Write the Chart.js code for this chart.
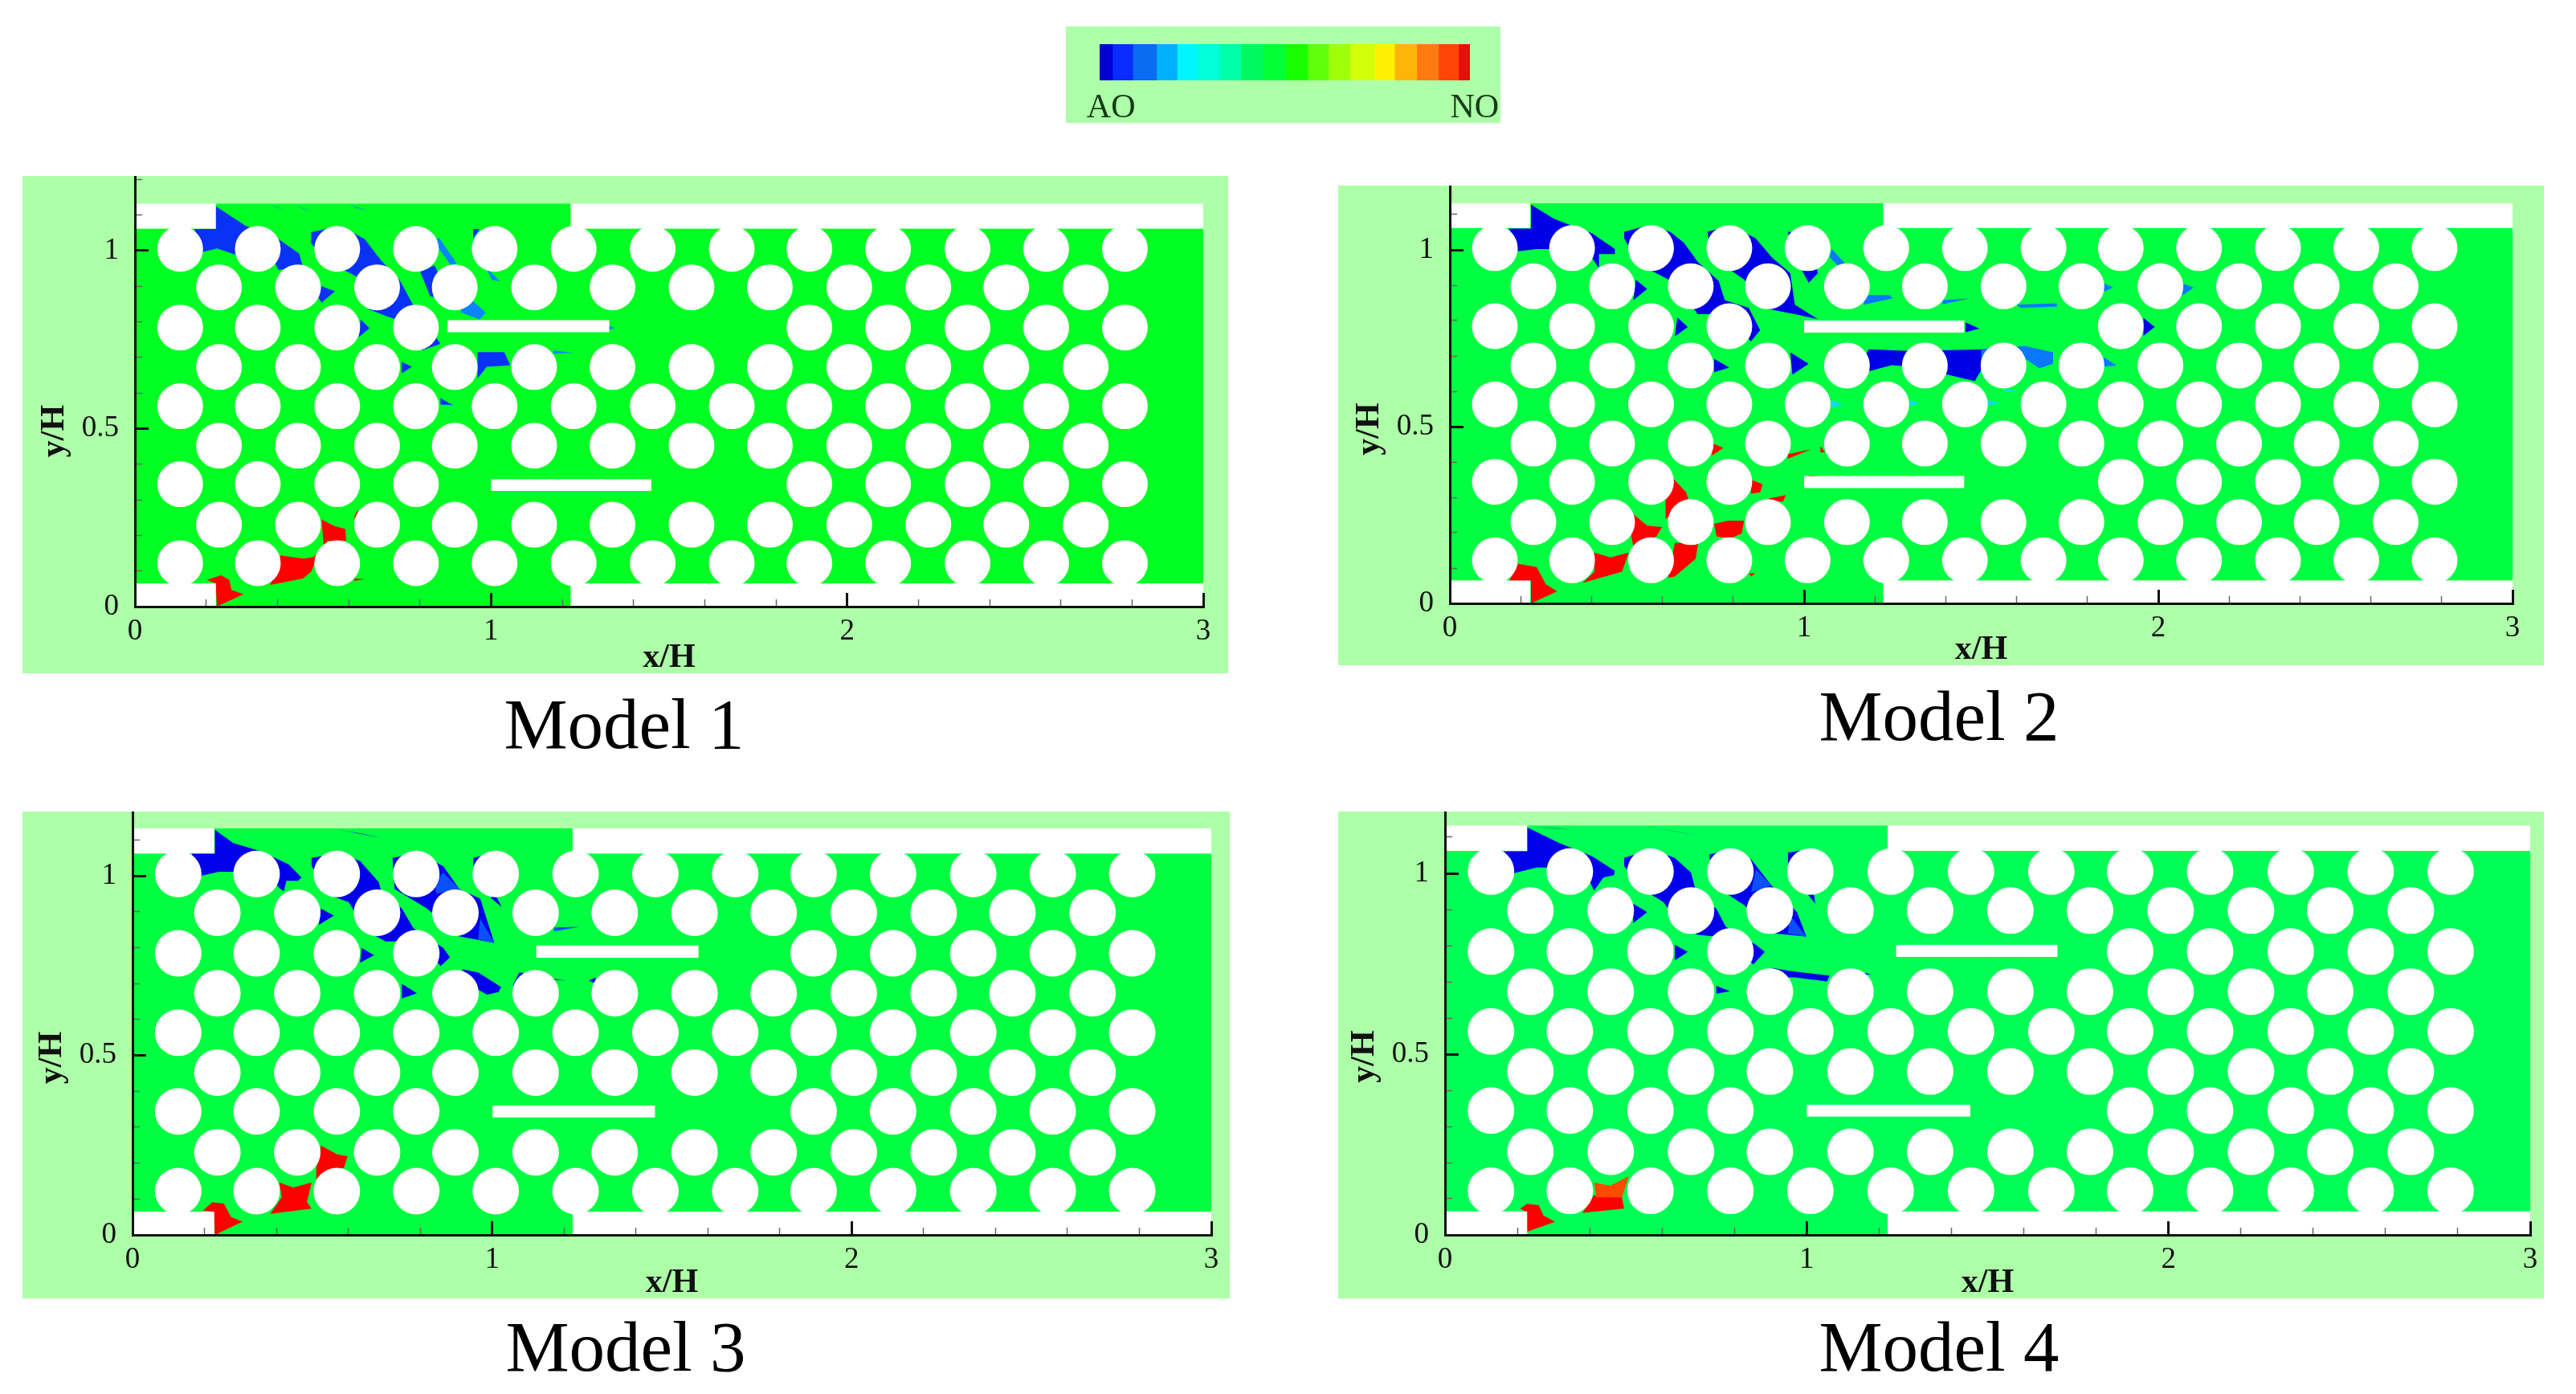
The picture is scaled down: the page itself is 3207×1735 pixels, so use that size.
<!DOCTYPE html>
<html>
<head>
<meta charset="utf-8">
<title>Model 1-4 contours</title>
<script src="https://cdn.jsdelivr.net/npm/chart.js@4/dist/chart.umd.min.js"></script>
<style>
html, body { margin: 0; padding: 0; background: #fff; }
#page { position: relative; width: 3207px; height: 1735px; overflow: hidden; }
.panel { position: absolute; background: #adffa8; }
.panel canvas { position: absolute; left: 0; top: 0; }
.caption { position: absolute; font: 89px/1 "Liberation Serif", serif; color: #000; transform: translateX(-50%); white-space: nowrap; }
</style>
</head>
<body>
<div id="page"></div>
<script>
// axis ticks, same for all four models
const xMajorTicks = [0, 1, 2, 3];
const xMinorTicks = [0.2, 0.4, 0.6, 0.8, 1.2, 1.4, 1.6, 1.8, 2.2, 2.4, 2.6, 2.8];
const yMajorTicks = [0, 0.5, 1];
const yMinorTicks = [0.1, 0.2, 0.3, 0.4, 0.6, 0.7, 0.8, 0.9, 1.1, 1.2];

// colour bar
const colorbarWidths = [42, 66, 77, 67, 65, 75, 68, 72, 73, 72, 68, 70, 80, 65, 72, 71, 65, 37];
const colorbarColors = ['#0000d2', '#0a2cff', '#0a6cf0', '#00b0ff', '#00f5ff', '#00ffd8', '#00ffa8', '#00f860', '#00ff34',
    '#18ff00', '#60ff0a', '#a0ff0a', '#d4ff0a', '#fff000', '#ffb408', '#ff7a10', '#ff4408', '#e60f0a'];
const colorbarTickValues = [37, 1220];
const colorbarTickLabels = ['AO', 'NO'];

// tube bank: hole centres in x/H, y/H
const holeColsLong = [0.127, 0.345, 0.568, 0.789, 1.01, 1.232, 1.454, 1.676, 1.894, 2.115, 2.338, 2.559, 2.78];
const holeColsShort = [0.236, 0.458, 0.68, 0.898, 1.121, 1.341, 1.563, 1.783, 2.006, 2.228, 2.447, 2.67];
const holeColsCut = [0.127, 0.345, 0.568, 0.789, 1.894, 2.115, 2.338, 2.559, 2.78];
const holeRowsLong = [1.005, 0.563, 0.122];
const holeRowsShort = [0.897, 0.673, 0.452, 0.23];
const holeRowsCut = [0.784, 0.344];

// channel outline and the white wall strips
const channelOutline = [[0, 0.065], [0.227, 0.065], [0.227, 0], [1.224, 0], [1.224, 0.065], [3, 0.065], [3, 1.062],
    [1.224, 1.062], [1.224, 1.132], [0.227, 1.132], [0.227, 1.062], [0, 1.062]];
const wallStrips = [
    [[0, 1.062], [0.227, 1.062], [0.227, 1.132], [0, 1.132]],
    [[1.224, 1.062], [3, 1.062], [3, 1.132], [1.224, 1.132]],
    [[0, 0], [0.227, 0], [0.227, 0.065], [0, 0.065]],
    [[1.224, 0], [3, 0], [3, 0.065], [1.224, 0.065]]
];

// baffles
const model1Baffles = [[[0.878, 0.771], [1.332, 0.771], [1.332, 0.805], [0.878, 0.805]], [[1, 0.325], [1.45, 0.325], [1.45, 0.358], [1, 0.358]]];
const model2Baffles = [[[1, 0.766], [1.452, 0.766], [1.452, 0.8], [1, 0.8]], [[1, 0.326], [1.452, 0.326], [1.452, 0.36], [1, 0.36]]];
const model3Baffles = [[[1.123, 0.772], [1.574, 0.772], [1.574, 0.806], [1.123, 0.806]], [[1.001, 0.327], [1.453, 0.327], [1.453, 0.36], [1.001, 0.36]]];
const model4Baffles = [[[1.247, 0.769], [1.693, 0.769], [1.693, 0.802], [1.247, 0.802]], [[1, 0.327], [1.452, 0.327], [1.452, 0.36], [1, 0.36]]];

// model 1 contour zones
const model1Blue = [
    [[0.227, 1.125], [0.311, 1.07], [0.403, 1.033], [0.461, 0.992], [0.472, 0.955], [0.403, 0.946], [0.38, 0.992], [0.346, 1.001], [0.288, 0.987], [0.23, 1.006], [0.19, 0.996], [0.167, 1.061], [0.227, 1.061]],
    [[0.495, 1.052], [0.576, 1.07], [0.645, 1.033], [0.691, 0.973], [0.743, 0.918], [0.778, 0.853], [0.858, 0.738], [0.806, 0.72], [0.76, 0.798], [0.703, 0.817], [0.657, 0.835], [0.622, 0.927], [0.553, 0.964], [0.495, 1.019]],
    [[0.524, 0.9], [0.562, 0.886], [0.524, 0.854], [0.501, 0.891]],
    [[0.634, 0.807], [0.659, 0.782], [0.628, 0.757]],
    [[0.801, 0.941], [0.841, 0.959], [0.864, 0.913], [0.87, 0.863], [0.829, 0.872]],
    [[0.962, 0.715], [1.037, 0.715], [1.054, 0.678], [0.988, 0.674], [0.962, 0.641]],
    [[0.749, 0.688], [0.778, 0.674], [0.749, 0.655]],
    [[0.858, 0.586], [0.893, 0.566], [0.858, 0.568]],
    [[0.95, 1.061], [0.968, 1.061], [0.95, 1.033]]
];
const model1Light = [
    [[0.916, 0.863], [0.95, 0.858], [0.985, 0.826], [0.968, 0.807], [0.916, 0.826]],
    [[0.853, 1.038], [0.904, 0.964], [0.887, 0.959], [0.841, 1.024]],
    [[0.985, 0.955], [1.025, 0.913], [1.002, 0.918]],
    [[1.175, 0.72], [1.232, 0.713], [1.175, 0.711]],
    [[1.331, 0.789], [1.348, 0.783], [1.331, 0.778]],
    [[0.38, 1.13], [0.415, 1.117], [0.4, 1.12]],
    [[0.449, 1.13], [0.5, 1.107], [0.472, 1.118]],
    [[0.6, 1.13], [0.657, 1.112], [0.622, 1.12]]
];
const model1Red = [
    [[0.202, 0.075], [0.242, 0.088], [0.265, 0.075], [0.271, 0.047], [0.305, 0.035], [0.23, 0], [0.227, 0.065]],
    [[0.409, 0.144], [0.472, 0.135], [0.501, 0.139], [0.53, 0.171], [0.524, 0.245], [0.559, 0.227], [0.591, 0.218], [0.593, 0.185], [0.541, 0.185], [0.518, 0.153], [0.495, 0.098], [0.472, 0.079], [0.38, 0.061], [0.403, 0.125]],
    [[0.616, 0.254], [0.628, 0.273], [0.622, 0.231]],
    [[0.616, 0.079], [0.645, 0.077], [0.616, 0.072]]
];

// model 2 contour zones
const model2Blue = [
    [[0.229, 1.128], [0.296, 1.087], [0.401, 1.047], [0.466, 1.002], [0.466, 0.988], [0.421, 0.988], [0.421, 0.948], [0.394, 0.988], [0.349, 1.006], [0.284, 1.002], [0.245, 1.002], [0.193, 0.996], [0.167, 1.06], [0.229, 1.06]],
    [[0.492, 1.051], [0.557, 1.069], [0.622, 1.051], [0.661, 1.02], [0.7, 0.966], [0.759, 0.912], [0.776, 0.858], [0.844, 0.836], [0.876, 0.773], [0.85, 0.741], [0.779, 0.818], [0.7, 0.818], [0.635, 0.907], [0.531, 0.961], [0.492, 1.033]],
    [[0.525, 0.916], [0.557, 0.889], [0.518, 0.858]],
    [[0.642, 0.809], [0.672, 0.782], [0.635, 0.755]],
    [[0.727, 1.051], [0.792, 1.069], [0.863, 1.033], [0.909, 0.979], [0.961, 0.934], [0.974, 0.845], [1.039, 0.804], [0.974, 0.818], [0.883, 0.836], [0.831, 0.916], [0.74, 0.979]],
    [[0.954, 1.051], [1.013, 1.047], [1.039, 0.934], [1.013, 0.907], [0.974, 0.979]],
    [[1.456, 0.795], [1.495, 0.777], [1.456, 0.767]],
    [[1.182, 0.719], [1.299, 0.714], [1.521, 0.719], [1.5, 0.66], [1.482, 0.629], [1.404, 0.647], [1.365, 0.665], [1.247, 0.674], [1.182, 0.656], [1.156, 0.665]],
    [[0.961, 0.71], [1.013, 0.678], [0.967, 0.647]],
    [[0.746, 0.692], [0.789, 0.667], [0.746, 0.654]],
    [[1.958, 0.808], [1.99, 0.782], [1.958, 0.757]]
];
const model2Light = [
    [[1.5, 0.72], [1.625, 0.728], [1.703, 0.71], [1.703, 0.678], [1.664, 0.665], [1.625, 0.692], [1.521, 0.665], [1.5, 0.66]],
    [[1.078, 1.002], [1.15, 0.925], [1.117, 0.934], [1.072, 0.979]],
    [[1.169, 0.872], [1.241, 0.872], [1.25, 0.863], [1.169, 0.845]],
    [[1.391, 0.858], [1.469, 0.863], [1.391, 0.846]],
    [[1.599, 0.845], [1.714, 0.849], [1.714, 0.84], [1.612, 0.836]],
    [[1.846, 0.905], [1.873, 0.894], [1.846, 0.882]],
    [[2.068, 0.905], [2.1, 0.894], [2.068, 0.871]],
    [[1.846, 0.696], [1.883, 0.673], [1.846, 0.67]]
];
const model2Cyan = [
    [[1.078, 0.575], [1.111, 0.562], [1.078, 0.555]],
    [[1.299, 0.575], [1.325, 0.566], [1.299, 0.559]],
    [[1.518, 0.575], [1.553, 0.566], [1.518, 0.561]],
    [[1.56, 0.606], [1.599, 0.602], [1.573, 0.598]]
];
const model2Red = [
    [[0.193, 0.112], [0.245, 0.103], [0.271, 0.054], [0.303, 0.034], [0.229, 0], [0.229, 0.063], [0.167, 0.063]],
    [[0.408, 0.144], [0.453, 0.13], [0.505, 0.144], [0.486, 0.09], [0.375, 0.058], [0.408, 0.09]],
    [[0.518, 0.252], [0.557, 0.22], [0.599, 0.216], [0.583, 0.189], [0.518, 0.162], [0.512, 0.189]],
    [[0.629, 0.355], [0.667, 0.314], [0.674, 0.292], [0.629, 0.256], [0.609, 0.238], [0.609, 0.342]],
    [[0.635, 0.171], [0.701, 0.171], [0.694, 0.126], [0.635, 0.076], [0.616, 0.072]],
    [[0.746, 0.225], [0.785, 0.234], [0.831, 0.234], [0.824, 0.198], [0.792, 0.184], [0.753, 0.189]],
    [[0.85, 0.35], [0.883, 0.337], [0.876, 0.314], [0.85, 0.31]],
    [[0.902, 0.297], [0.948, 0.306], [0.941, 0.288], [0.883, 0.288]],
    [[0.74, 0.454], [0.772, 0.44], [0.74, 0.418]],
    [[0.954, 0.422], [1.02, 0.436], [0.954, 0.409]],
    [[1.046, 0.445], [1.059, 0.427], [1.046, 0.427]],
    [[1.013, 0.362], [1.052, 0.359], [1.013, 0.355]],
    [[0.844, 0.085], [0.863, 0.085], [0.85, 0.076]]
];

// model 3 contour zones
const model3Blue = [
    [[0.229, 1.128], [0.28, 1.091], [0.357, 1.068], [0.434, 1.032], [0.47, 0.995], [0.46, 0.986], [0.428, 0.986], [0.421, 0.957], [0.408, 0.966], [0.389, 0.993], [0.357, 1.011], [0.28, 1.011], [0.241, 1.011], [0.19, 1.0], [0.164, 1.062], [0.229, 1.062]],
    [[0.498, 1.05], [0.575, 1.064], [0.633, 1.041], [0.685, 0.982], [0.691, 0.959], [0.749, 0.909], [0.781, 0.854], [0.864, 0.799], [0.883, 0.773], [0.857, 0.749], [0.793, 0.817], [0.704, 0.817], [0.652, 0.845], [0.601, 0.927], [0.549, 0.945], [0.498, 1.027]],
    [[0.524, 0.909], [0.56, 0.889], [0.518, 0.863]],
    [[0.637, 0.799], [0.672, 0.779], [0.633, 0.758]],
    [[0.723, 1.05], [0.793, 1.064], [0.864, 1.027], [0.909, 0.963], [0.967, 0.936], [1.006, 0.813], [0.909, 0.831], [0.819, 0.909], [0.729, 0.963]],
    [[0.948, 1.05], [1.0, 1.064], [1.012, 0.941], [1.027, 0.913], [0.999, 0.936], [0.948, 1.027]],
    [[0.916, 0.74], [0.961, 0.731], [1.025, 0.69], [1.018, 0.676], [0.986, 0.669], [0.948, 0.69]],
    [[1.076, 0.731], [1.179, 0.712], [1.205, 0.708], [1.14, 0.712], [1.057, 0.694]],
    [[0.749, 0.699], [0.791, 0.673], [0.749, 0.658]],
    [[1.269, 0.708], [1.288, 0.717], [1.288, 0.7]],
    [[0.434, 1.128], [0.486, 1.11], [0.46, 1.119]],
    [[0.575, 1.128], [0.691, 1.105], [0.64, 1.117]]
];
const model3Light = [
    [[0.864, 1.009], [0.909, 0.963], [0.845, 0.95], [0.839, 0.982]],
    [[0.967, 0.881], [1.006, 0.813], [0.961, 0.822]],
    [[1.172, 0.856], [1.243, 0.858], [1.172, 0.845]]
];
const model3Red = [
    [[0.196, 0.068], [0.222, 0.091], [0.254, 0.087], [0.274, 0.05], [0.306, 0.037], [0.229, 0], [0.226, 0.064]],
    [[0.408, 0.146], [0.447, 0.132], [0.498, 0.146], [0.485, 0.091], [0.498, 0.073], [0.383, 0.059], [0.415, 0.105]],
    [[0.524, 0.249], [0.569, 0.224], [0.598, 0.219], [0.588, 0.187], [0.511, 0.155], [0.511, 0.187]]
];

// model 4 contour zones
const model4Blue = [
    [[0.227, 1.127], [0.316, 1.084], [0.406, 1.048], [0.469, 1.007], [0.467, 0.995], [0.438, 0.989], [0.412, 0.952], [0.393, 0.993], [0.355, 1.016], [0.253, 1.016], [0.189, 1.0], [0.163, 1.061], [0.227, 1.061]],
    [[0.495, 1.043], [0.571, 1.066], [0.635, 1.043], [0.68, 1.002], [0.693, 0.952], [0.75, 0.902], [0.776, 0.853], [0.859, 0.803], [0.884, 0.783], [0.852, 0.748], [0.788, 0.821], [0.7, 0.83], [0.661, 0.844], [0.603, 0.921], [0.559, 0.948], [0.495, 1.02]],
    [[0.52, 0.916], [0.559, 0.893], [0.52, 0.862]],
    [[0.635, 0.803], [0.671, 0.783], [0.635, 0.759]],
    [[0.731, 1.052], [0.795, 1.066], [0.846, 1.039], [0.903, 0.966], [0.973, 0.893], [0.999, 0.825], [0.91, 0.834], [0.827, 0.912], [0.737, 0.971]],
    [[0.948, 1.057], [0.999, 1.066], [1.024, 0.916], [1.005, 0.939], [0.948, 1.03]],
    [[0.903, 0.739], [0.954, 0.73], [1.063, 0.717], [1.056, 0.701], [0.967, 0.712], [0.935, 0.712]],
    [[1.133, 0.73], [1.178, 0.721], [1.133, 0.717]],
    [[0.75, 0.689], [0.788, 0.674], [0.75, 0.667]],
    [[0.559, 1.129], [0.712, 1.102], [0.635, 1.116]],
    [[0.24, 1.129], [0.355, 1.12], [0.3, 1.125]]
];
const model4Light = [
    [[0.859, 1.011], [0.903, 0.966], [0.846, 0.948]],
    [[0.954, 0.884], [0.999, 0.825], [0.948, 0.834]]
];
const model4Red = [
    [[0.208, 0.073], [0.227, 0.086], [0.259, 0.082], [0.272, 0.054], [0.304, 0.036], [0.227, 0.009], [0.225, 0.063]],
    [[0.412, 0.11], [0.489, 0.104], [0.495, 0.073], [0.38, 0.061]]
];
const model4Orange = [
    [[0.412, 0.145], [0.457, 0.136], [0.508, 0.163], [0.489, 0.104], [0.418, 0.104]]
];

const serif = '"Liberation Serif", serif';
const page = document.getElementById('page');

function polygon(points, color) {
    return {
        type: 'scatter',
        data: points.map(p => ({ x: p[0], y: p[1] })),
        showLine: true,
        fill: 'shape',
        backgroundColor: color,
        borderWidth: 0,
        pointRadius: 0,
        tension: 0
    };
}

function holeData() {
    const pts = [];
    const add = (rows, cols) => rows.forEach(y => cols.forEach(x => pts.push({ x: x, y: y })));
    add(holeRowsLong, holeColsLong);
    add(holeRowsShort, holeColsShort);
    add(holeRowsCut, holeColsCut);
    return pts;
}

function makePanel(box) {
    const div = document.createElement('div');
    div.className = 'panel';
    div.style.cssText = `left:${box.left}px;top:${box.top}px;width:${box.right - box.left}px;height:${box.bottom - box.top}px`;
    const canvas = document.createElement('canvas');
    canvas.width = box.right - box.left;
    canvas.height = box.bottom - box.top;
    div.appendChild(canvas);
    page.appendChild(div);
    return canvas;
}

function caption(text, x, baseline) {
    const div = document.createElement('div');
    div.className = 'caption';
    div.textContent = text;
    div.style.left = x + 'px';
    div.style.top = (baseline - 75) + 'px';
    page.appendChild(div);
}

// y/H sits next to the 0.5 tick, not in the middle of the axis
const yTitlePlugin = {
    id: 'yTitle',
    afterDraw(chart) {
        const ctx = chart.ctx;
        const s = chart.scales.y;
        ctx.save();
        ctx.translate(s.right - 100, s.getPixelForValue(0.5) + 3);
        ctx.rotate(-Math.PI / 2);
        ctx.font = 'bold 42px ' + serif;
        ctx.fillStyle = '#111';
        ctx.textAlign = 'center';
        ctx.textBaseline = 'middle';
        ctx.fillText('y/H', 0, 0);
        ctx.restore();
    }
};

function drawModel(m) {
    const canvas = makePanel(m.box);
    const x0 = m.x0, x3 = m.x3, y0 = m.y0;
    const yMax = (y0 - m.box.top) / m.yUnit;

    // bottom layer first, reversed at the end because Chart.js paints dataset 0 on top
    const layers = [polygon(channelOutline, m.green)];
    m.zones.forEach(z => z.polys.forEach(p => layers.push(polygon(p, z.color))));
    wallStrips.forEach(p => layers.push(polygon(p, '#ffffff')));
    m.baffles.forEach(p => layers.push(polygon(p, '#ffffff')));
    layers.push({
        type: 'scatter',
        data: holeData(),
        pointRadius: m.holeRadius,
        pointHoverRadius: m.holeRadius,
        pointBackgroundColor: '#ffffff',
        pointBorderWidth: 0,
        showLine: false
    });

    const tickFont = { family: serif, size: 37 };
    new Chart(canvas, {
        type: 'scatter',
        data: { datasets: layers.reverse() },
        plugins: [yTitlePlugin],
        options: {
            responsive: false,
            animation: false,
            devicePixelRatio: 1,
            events: [],
            // the big hole markers must not shrink the plot area
            layout: { autoPadding: false, padding: { left: 0, top: 0, bottom: 0, right: m.box.right - x3 } },
            plugins: { legend: { display: false }, tooltip: { enabled: false } },
            scales: {
                x: {
                    type: 'linear', min: 0, max: 3,
                    afterBuildTicks: s => { s.ticks = xMajorTicks.map(v => ({ value: v })); },
                    afterFit: s => { s.height = m.box.bottom - y0; s.paddingLeft = s.paddingRight = 0; },
                    grid: { drawOnChartArea: false, tickColor: '#111', tickWidth: 3, tickLength: -17, z: 1 },
                    border: { display: true, color: '#111', width: 3, z: 2 },
                    ticks: { autoSkip: false, maxRotation: 0, font: tickFont, color: '#111', padding: 26, callback: v => String(v) },
                    title: { display: true, text: 'x/H', color: '#111', padding: 0, font: { family: serif, size: 42, weight: 'bold', lineHeight: 0.9 } }
                },
                y: {
                    type: 'linear', min: 0, max: yMax,
                    afterBuildTicks: s => { s.ticks = yMajorTicks.map(v => ({ value: v })); },
                    afterFit: s => { s.width = x0 - m.box.left; s.paddingTop = s.paddingBottom = 0; },
                    grid: { drawOnChartArea: false, tickColor: '#111', tickWidth: 3, tickLength: -17, z: 1 },
                    border: { display: true, color: '#111', width: 3, z: 2 },
                    ticks: { autoSkip: false, font: tickFont, color: '#111', padding: 37, callback: v => String(v) }
                },
                xMinor: {
                    type: 'linear', axis: 'x', position: { y: 0 }, min: 0, max: 3,
                    afterBuildTicks: s => { s.ticks = xMinorTicks.map(v => ({ value: v })); },
                    grid: { drawOnChartArea: false, tickColor: '#666', tickWidth: 1.5, tickLength: -9, z: 1 },
                    border: { display: false },
                    ticks: { display: false, autoSkip: false }
                },
                yMinor: {
                    type: 'linear', axis: 'y', position: { x: 0 }, min: 0, max: yMax,
                    afterBuildTicks: s => { s.ticks = yMinorTicks.map(v => ({ value: v })); },
                    grid: { drawOnChartArea: false, tickColor: '#666', tickWidth: 1.5, tickLength: -9, z: 1 },
                    border: { display: false },
                    ticks: { display: false, autoSkip: false }
                }
            }
        }
    });
}

function drawColorbar() {
    const box = { left: 1327, right: 1868, top: 33, bottom: 153 };
    const canvas = makePanel(box);
    new Chart(canvas, {
        type: 'bar',
        data: {
            labels: [''],
            datasets: colorbarWidths.map((w, i) => ({ data: [w], backgroundColor: colorbarColors[i], barPercentage: 1, categoryPercentage: 1, borderWidth: 0 }))
        },
        options: {
            indexAxis: 'y',
            responsive: false,
            animation: false,
            devicePixelRatio: 1,
            events: [],
            layout: { padding: { left: 42, right: 38, top: 22, bottom: 0 } },
            plugins: { legend: { display: false }, tooltip: { enabled: false } },
            scales: {
                x: {
                    type: 'linear', stacked: true, min: 0, max: 1205,
                    afterBuildTicks: s => { s.ticks = colorbarTickValues.map(v => ({ value: v })); },
                    afterFit: s => { s.height = 53; s.paddingLeft = s.paddingRight = 0; },
                    grid: { display: false },
                    border: { display: false },
                    ticks: {
                        autoSkip: false, maxRotation: 0, padding: 2, color: '#163a16',
                        font: { family: serif, size: 42 },
                        callback: v => colorbarTickLabels[colorbarTickValues.indexOf(v)]
                    }
                },
                y: { stacked: true, display: false }
            }
        }
    });
}

drawColorbar();

drawModel({
    box: { left: 28, right: 1529, top: 219, bottom: 838 }, x0: 168, x3: 1498, y0: 755, yUnit: 443, holeRadius: 28.5, green: '#00ff22',
    baffles: model1Baffles,
    zones: [{ color: '#0a32f5', polys: model1Blue }, { color: '#0a84ff', polys: model1Light }, { color: '#ff0000', polys: model1Red }]
});
drawModel({
    box: { left: 1666, right: 3167, top: 231, bottom: 828 }, x0: 1805, x3: 3128, y0: 751, yUnit: 440, holeRadius: 28.5, green: '#00ff40',
    baffles: model2Baffles,
    zones: [{ color: '#0000e6', polys: model2Blue }, { color: '#0a78ff', polys: model2Light }, { color: '#14d8ff', polys: model2Cyan }, { color: '#ff0000', polys: model2Red }]
});
drawModel({
    box: { left: 28, right: 1531, top: 1010, bottom: 1616 }, x0: 165, x3: 1508, y0: 1537, yUnit: 447, holeRadius: 29, green: '#00ff40',
    baffles: model3Baffles,
    zones: [{ color: '#0000ea', polys: model3Blue }, { color: '#0a50ff', polys: model3Light }, { color: '#ff0000', polys: model3Red }]
});
drawModel({
    box: { left: 1666, right: 3167, top: 1010, bottom: 1616 }, x0: 1799, x3: 3150, y0: 1537, yUnit: 450, holeRadius: 29, green: '#00ff55',
    baffles: model4Baffles,
    zones: [{ color: '#0000ea', polys: model4Blue }, { color: '#0a50ff', polys: model4Light }, { color: '#ff0000', polys: model4Red }, { color: '#ff4a00', polys: model4Orange }]
});

caption('Model 1', 777, 932);
caption('Model 2', 2414, 922);
caption('Model 3', 779, 1707);
caption('Model 4', 2414, 1707);
</script>
</body>
</html>
